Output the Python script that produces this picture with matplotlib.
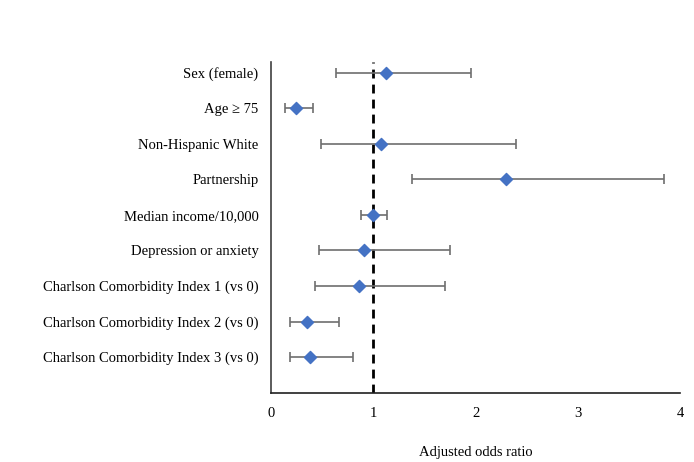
import matplotlib.pyplot as plt

labels = [
    "Sex (female)",
    "Age \u2265 75",
    "Non-Hispanic White",
    "Partnership",
    "Median income/10,000",
    "Depression or anxiety",
    "Charlson Comorbidity Index 1 (vs 0)",
    "Charlson Comorbidity Index 2 (vs 0)",
    "Charlson Comorbidity Index 3 (vs 0)",
]
odds = [1.12, 0.24, 1.08, 2.30, 1.00, 0.91, 0.86, 0.35, 0.38]
ci_low = [0.64, 0.14, 0.49, 1.38, 0.88, 0.47, 0.43, 0.19, 0.19]
ci_high = [1.96, 0.41, 2.40, 3.84, 1.13, 1.75, 1.70, 0.66, 0.80]
x_ticks = [0, 1, 2, 3, 4]


def main():
    plt.rcParams['font.family'] = ['Liberation Serif', 'DejaVu Serif']
    fig = plt.figure(figsize=(6.94, 4.62), dpi=100)
    ax = fig.add_axes([0.3905, 0.150, 0.5895, 0.716])

    n = len(labels)
    ys = [n - i for i in range(n)]
    err_lo = [o - lo for o, lo in zip(odds, ci_low)]
    err_hi = [hi - o for o, hi in zip(odds, ci_high)]

    ax.errorbar(odds, ys, xerr=[err_lo, err_hi], fmt='none',
                ecolor='#6e6e6e', elinewidth=1.2, capsize=3.5,
                capthick=1.2, zorder=2)
    ax.scatter(odds, ys, marker='D', s=38, color='#4472C4', zorder=3)
    ax.axvline(1, color='black', linestyle=(0, (3.2, 2.2)),
               linewidth=2, zorder=1)

    ax.set_xlim(0, 4)
    ax.set_ylim(0, n + 0.3)
    ax.set_xticks(x_ticks)
    ax.set_xticklabels([str(t) for t in x_ticks], fontsize=10.5)
    ax.set_yticks(ys)
    ax.set_yticklabels(labels, fontsize=10.5)
    ax.tick_params(axis='both', length=0)
    ax.tick_params(axis='y', pad=9)
    ax.tick_params(axis='x', pad=10)
    ax.set_xlabel("Adjusted odds ratio", fontsize=10.5, labelpad=19)

    for side in ['top', 'right']:
        ax.spines[side].set_visible(False)
    ax.spines['left'].set_color('#404040')
    ax.spines['bottom'].set_color('#202020')
    ax.spines['left'].set_linewidth(1.2)
    ax.spines['bottom'].set_linewidth(1.2)

    fig.savefig("out.png", dpi=100)


if "__main__" == __name__:
    main()
